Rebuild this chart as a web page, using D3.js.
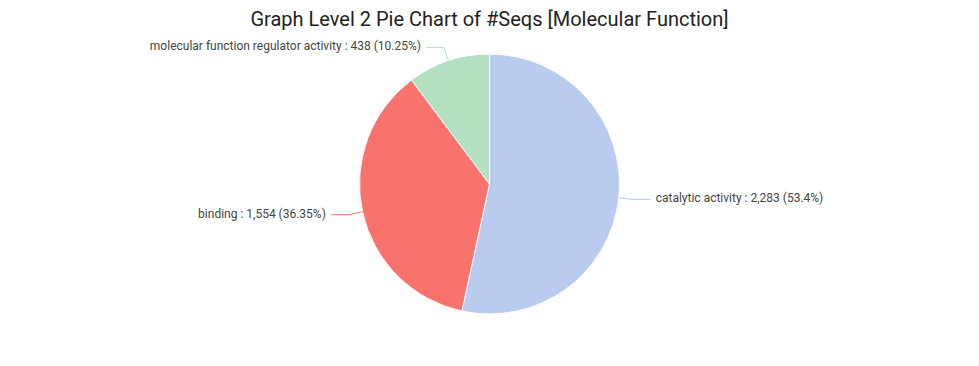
<!DOCTYPE html>
<html>
<head>
<meta charset="utf-8">
<script src="https://cdn.jsdelivr.net/npm/d3@7"></script>
<style>
  body { margin: 0; background: #fff; }
  svg { display: block; font-family: Roboto, sans-serif; }
</style>
</head>
<body>
<svg id="chart" width="979" height="366"></svg>
<script>
const categories = ["catalytic activity", "binding", "molecular function regulator activity"];
const values = [2283, 1554, 438];
const colors = ["#b9cbee", "#f8736e", "#b2e0c0"];
const title = "Graph Level 2 Pie Chart of #Seqs [Molecular Function]";

const svg = d3.select("#chart");
const width = +svg.attr("width");
const cx = width / 2, cy = 184, r = 130;

svg.append("text")
  .attr("x", cx).attr("y", 26)
  .attr("text-anchor", "middle")
  .attr("font-size", 20)
  .attr("fill", "#222")
  .text(title);

const data = categories.map((c, i) => ({name: c, value: values[i], color: colors[i]}));
const total = d3.sum(values);

const pie = d3.pie().value(d => d.value).sort(null);
const arcs = pie(data);
const arc = d3.arc().innerRadius(0).outerRadius(r);

const g = svg.append("g").attr("transform", `translate(${cx},${cy})`);

g.selectAll("path.slice")
  .data(arcs)
  .join("path")
  .attr("class", "slice")
  .attr("d", arc)
  .attr("fill", d => d.data.color)
  .attr("stroke", "#fff")
  .attr("stroke-width", 1);

// label lines: edge -> elbow -> horizontal
const len1 = 14, len2 = 18;
const fmt = d3.format(",");
const pct = v => +(v / total * 100).toFixed(2) + "%";

arcs.forEach(d => {
  const a = (d.startAngle + d.endAngle) / 2;
  const sx = Math.sin(a), sy = -Math.cos(a);
  const p0 = [sx * r, sy * r];
  const p1 = [sx * (r + len1), sy * (r + len1)];
  const right = sx >= 0;
  const p2 = [p1[0] + (right ? len2 : -len2), p1[1]];
  g.append("polyline")
    .attr("points", [p0, p1, p2].map(p => p.join(",")).join(" "))
    .attr("fill", "none")
    .attr("stroke", d.data.color)
    .attr("stroke-width", 1);
  g.append("text")
    .attr("x", p2[0] + (right ? 5 : -5))
    .attr("y", p2[1] - 1)
    .attr("dominant-baseline", "central")
    .attr("text-anchor", right ? "start" : "end")
    .attr("font-size", 12)
    .attr("fill", "#444")
    .text(`${d.data.name} : ${fmt(d.data.value)} (${pct(d.data.value)})`);
});
</script>
</body>
</html>
